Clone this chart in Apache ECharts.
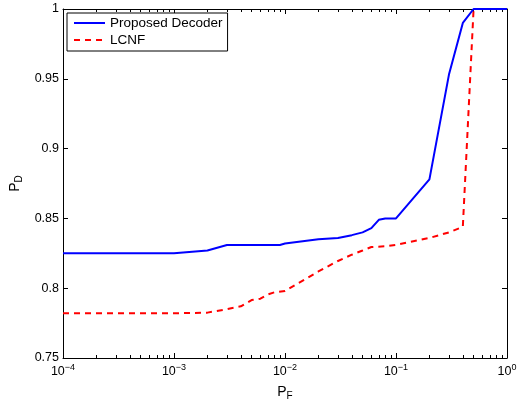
<!DOCTYPE html>
<html>
<head>
<meta charset="utf-8">
<script src="https://cdn.jsdelivr.net/npm/echarts@6/dist/echarts.min.js"></script>
<style>
html,body{margin:0;padding:0;background:#fff;}
#c{width:517px;height:403px;}
</style>
</head>
<body>
<div id="c"></div>
<script>
// ---- data ----
const seriesNames = ['Proposed Decoder', 'LCNF'];
const proposedX = [1e-4, 1e-3, 2e-3, 3e-3, 9e-3, 1e-2, 2e-2, 3e-2, 4e-2, 5e-2, 6e-2, 7e-2, 8e-2, 1e-1, 2e-1, 3e-1, 4e-1, 5e-1, 1];
const proposedY = [0.825, 0.825, 0.827, 0.831, 0.831, 0.832, 0.835, 0.836, 0.838, 0.840, 0.843, 0.849, 0.850, 0.850, 0.878, 0.953, 0.990, 1.0, 1.0];
const lcnfX = [1e-4, 1e-3, 2e-3, 3e-3, 4e-3, 5e-3, 6e-3, 7e-3, 8e-3, 1e-2, 2e-2, 3e-2, 4e-2, 5e-2, 6e-2, 8e-2, 1e-1, 2e-1, 3e-1, 4e-1, 5e-1, 1];
const lcnfY = [0.782, 0.782, 0.7825, 0.785, 0.787, 0.7915, 0.7925, 0.7955, 0.797, 0.798, 0.812, 0.8195, 0.824, 0.827, 0.8295, 0.830, 0.831, 0.836, 0.840, 0.844, 1.0, 1.0];
const yTicks = [0.75, 0.8, 0.85, 0.9, 0.95, 1];
const xDecades = [1e-4, 1e-3, 1e-2, 1e-1, 1];

// minor tick positions (2..9 x each decade)
const minorX = [];
for (let d = 0; d < xDecades.length - 1; d++) {
  for (let k = 2; k <= 9; k++) minorX.push(+(k * xDecades[d]).toPrecision(3));
}

const FONT = '"Liberation Sans", Arial, Helvetica, sans-serif';
const pair = (xs, ys) => xs.map((x, i) => [x, ys[i]]);

const chart = echarts.init(document.getElementById('c'), null, {renderer: 'canvas'});

const baseX = {
  type: 'log', logBase: 10, min: 1e-4, max: 1, interval: 1,
  splitLine: {show: false},
  axisLine: {show: true, onZero: false, lineStyle: {color: '#000', width: 1}},
};

const option = {
  animation: false,
  backgroundColor: '#fff',
  textStyle: {fontFamily: FONT},
  grid: {left: 63, right: 10, top: 9, bottom: 45, containLabel: false, outerBoundsMode: 'none'},
  legend: {
    data: seriesNames,
    orient: 'vertical',
    left: 67, top: 13,
    padding: [3, 5, 4, 6],
    itemGap: 3,
    itemWidth: 31, itemHeight: 14,
    backgroundColor: '#fff',
    borderColor: '#000', borderWidth: 1, borderRadius: 0,
    itemStyle: {opacity: 0, borderWidth: 0},
    textStyle: {fontFamily: FONT, fontSize: 13.5, color: '#000'},
    selectedMode: false,
  },
  xAxis: [
    Object.assign({}, baseX, {
      position: 'bottom',
      name: '{p|P}{s|F}',
      nameLocation: 'middle', nameGap: 20,
      nameTextStyle: {
        fontFamily: FONT, color: '#000',
        rich: {
          p: {fontSize: 14, lineHeight: 16, verticalAlign: 'top', fontFamily: FONT, color: '#000'},
          s: {fontSize: 10, lineHeight: 10, verticalAlign: 'bottom', padding: [8, 0, 0, 0], fontFamily: FONT, color: '#000'}
        }
      },
      axisTick: {show: true, inside: true, length: 5, lineStyle: {color: '#000'}},
      axisLabel: {
        margin: 6,
        formatter: function (v) {
          const e = Math.round(Math.log10(v));
          return '{b|10}{s|' + (e < 0 ? '\u2212' + (-e) : e) + '}';
        },
        rich: {
          b: {fontSize: 12.5, lineHeight: 14, verticalAlign: 'bottom', fontFamily: FONT, color: '#000'},
          s: {fontSize: 9, lineHeight: 9, verticalAlign: 'bottom', padding: [0, 0, 6, 0], fontFamily: FONT, color: '#000'}
        }
      }
    }),
    Object.assign({}, baseX, {
      position: 'top',
      axisTick: {show: true, inside: true, length: 5, lineStyle: {color: '#000'}},
      axisLabel: {show: false}
    }),
    Object.assign({}, baseX, {
      position: 'bottom',
      axisLine: {show: false},
      axisTick: {show: true, inside: true, length: 3, lineStyle: {color: '#000'}, customValues: minorX},
      axisLabel: {show: false}
    }),
    Object.assign({}, baseX, {
      position: 'top',
      axisLine: {show: false},
      axisTick: {show: true, inside: true, length: 3, lineStyle: {color: '#000'}, customValues: minorX},
      axisLabel: {show: false}
    })
  ],
  yAxis: [
    {
      type: 'value', min: 0.75, max: 1, interval: 0.05,
      position: 'left',
      name: '{p|P}{s|D}',
      nameLocation: 'middle', nameGap: 39, nameRotate: 90,
      nameTextStyle: {
        fontFamily: FONT, color: '#000',
        rich: {
          p: {fontSize: 14, lineHeight: 16, verticalAlign: 'top', fontFamily: FONT, color: '#000'},
          s: {fontSize: 10, lineHeight: 10, verticalAlign: 'bottom', padding: [8, 0, 0, 0], fontFamily: FONT, color: '#000'}
        }
      },
      splitLine: {show: false},
      axisLine: {show: true, onZero: false, lineStyle: {color: '#000', width: 1}},
      axisTick: {show: true, inside: true, length: 5, lineStyle: {color: '#000'}},
      axisLabel: {
        margin: 4, fontSize: 12.5, color: '#000', fontFamily: FONT,
        formatter: function (v) {
          const t = yTicks.find(a => Math.abs(a - v) < 1e-9);
          return t === undefined ? '' : String(t);
        }
      }
    },
    {
      type: 'value', min: 0.75, max: 1, interval: 0.05,
      position: 'right',
      splitLine: {show: false},
      axisLine: {show: true, onZero: false, lineStyle: {color: '#000', width: 1}},
      axisTick: {show: true, inside: true, length: 5, lineStyle: {color: '#000'}},
      axisLabel: {show: false}
    }
  ],
  series: [
    {
      name: seriesNames[0], type: 'line', xAxisIndex: 0, yAxisIndex: 0,
      data: pair(proposedX, proposedY),
      showSymbol: false, symbol: 'none',
      lineStyle: {color: '#0000ff', width: 2},
      itemStyle: {color: '#0000ff'},
      z: 3
    },
    {
      name: seriesNames[1], type: 'line', xAxisIndex: 0, yAxisIndex: 0,
      data: pair(lcnfX, lcnfY),
      showSymbol: false, symbol: 'none',
      lineStyle: {color: '#ff0000', width: 2, type: [6, 5]},
      itemStyle: {color: '#ff0000'},
      z: 2
    }
  ]
};
chart.setOption(option);
</script>
</body>
</html>
